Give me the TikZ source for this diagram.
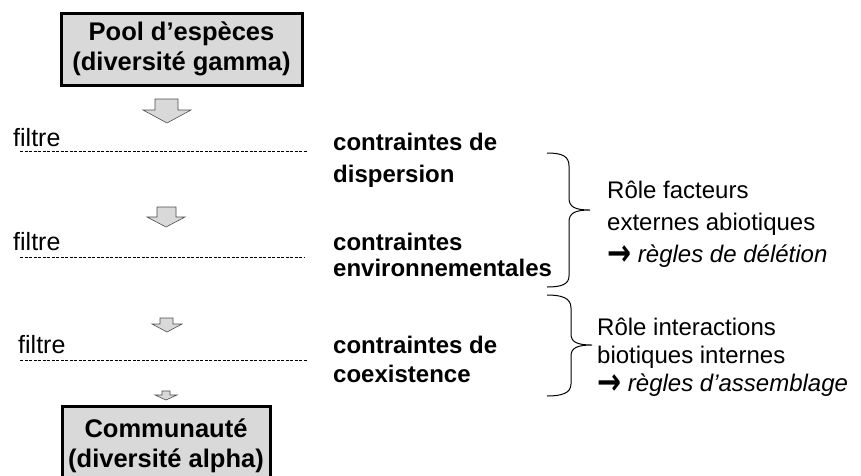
\documentclass[tikz,border=0pt]{standalone}
\usepackage{graphicx}
\usepackage{fontspec}
\setmainfont{Liberation Sans}
\newfontfamily\arrowfont{DejaVu Sans}
\newcommand{\bigarrow}{\raisebox{-3pt}{\scalebox{1.25}[1.6]{\arrowfont\bfseries\fontsize{23}{24}\selectfont →}}}
\begin{document}
\begin{tikzpicture}[x=1pt,y=-1pt,
  box/.style={draw=black,line width=3pt,fill=black!15,minimum width=#1,align=center,inner sep=0pt,font=\fontsize{25.5}{30}\selectfont\bfseries},
  flbl/.style={anchor=base west,inner sep=0pt,font=\fontsize{25}{28}\selectfont},
  lbl/.style={anchor=base west,inner sep=0pt,font=\fontsize{24}{28}\selectfont},
  blbl/.style={anchor=base west,inner sep=0pt,font=\fontsize{24}{28}\selectfont\bfseries},
  filt/.style={line width=0.8pt,dash pattern=on 3pt off 1.5pt},
  blockarrow/.style={draw=black!70,line width=0.6pt,fill=black!15},
  brace/.style={draw=black,line width=1pt}]
\useasboundingbox (0,0) rectangle (861,475);
% boxes
\node[box=241pt,minimum height=72pt] (pool) at (181.5,49) {Pool d’espèces\\(diversité gamma)};
\node[box=208pt,minimum height=80pt] (comm) at (166,446) {Communauté\\(diversité alpha)};
% block arrows
\draw[blockarrow] (155,99)--(178,99)--(178,110)--(191,110)--(167,123)--(143,110)--(155,110)--cycle;
\draw[blockarrow] (157,207)--(176,207)--(176,217)--(185,217)--(166,227)--(147,217)--(157,217)--cycle;
\draw[blockarrow] (160,318)--(173,318)--(173,324)--(182,324)--(167,332)--(152,324)--(160,324)--cycle;
\draw[blockarrow] (162,391)--(170,391)--(170,395)--(177,395)--(166,400)--(155,395)--(162,395)--cycle;
% filters
\node[flbl] (f1) at (13,146) {filtre};
\node[flbl] (f2) at (13,250) {filtre};
\node[flbl] (f3) at (18,353) {filtre};
\coordinate (f1e) at (307,151);
\coordinate (f2e) at (305,257);
\coordinate (f3e) at (308,360);
\draw[filt] (f1.base west |- f1e) ++(7,0) -- (f1e);
\draw[filt] (f2.base west |- f2e) ++(7,0) -- (f2e);
\draw[filt] (f3.base west |- f3e) ++(2,0) -- (f3e);
% constraints
\node[blbl] (c1a) at (333,150) {contraintes de};
\node[blbl] (c1b) at (333,182) {dispersion};
\node[blbl] (c2a) at (333,250) {contraintes};
\node[blbl] (c2b) at (333,276) {environnementales};
\node[blbl] (c3a) at (333,353) {contraintes de};
\node[blbl] (c3b) at (333,382) {coexistence};
% braces
\draw[brace] (547,153) .. controls (562,153) and (569,156) .. (569,166) -- (569,198)
  .. controls (569,207) and (575,210) .. (590,210)
  .. controls (575,210) and (569,213) .. (569,222) -- (569,276)
  .. controls (569,284) and (562,287) .. (547,287);
\draw[brace] (547,295) .. controls (562,295) and (571,298) .. (571,308) -- (571,334)
  .. controls (571,342) and (577,345) .. (592,345)
  .. controls (577,345) and (571,348) .. (571,356) -- (571,384)
  .. controls (571,393) and (562,396) .. (547,396);
% roles
\node[lbl] (r1a) at (607,198) {Rôle facteurs};
\node[lbl] (r1b) at (607,230) {externes abiotiques};
\node[lbl] (r1c) at (607,262) {\bigarrow\ \textit{règles de délétion}};
\node[lbl] (r2a) at (597,335) {Rôle interactions};
\node[lbl] (r2b) at (597,363) {biotiques internes};
\node[lbl] (r2c) at (597,391) {\bigarrow\ \textit{règles d’assemblage}};
\end{tikzpicture}
\end{document}
